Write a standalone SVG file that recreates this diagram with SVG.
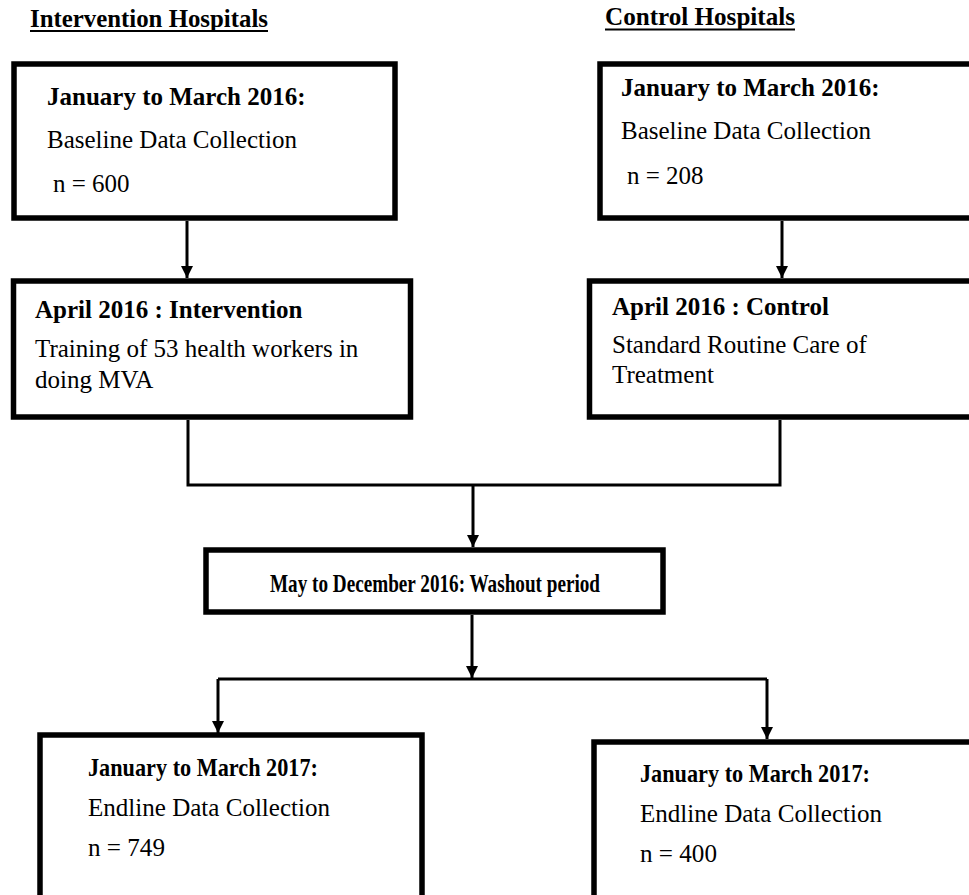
<svg xmlns="http://www.w3.org/2000/svg" width="969" height="895" viewBox="0 0 969 895">
<style>
text{font-family:"Liberation Serif","Times New Roman",serif;fill:#000;font-size:25px}
.b{font-weight:bold}
.box{fill:#fff;stroke:#000;stroke-width:5.5}
.ln{fill:none;stroke:#000;stroke-width:3}
</style>
<defs>
<marker id="ah" markerWidth="12" markerHeight="12" refX="12" refY="6" orient="auto" markerUnits="userSpaceOnUse" viewBox="0 0 12 12">
<path d="M0,0 L12,6 L0,12 Z" fill="#000"/>
</marker>
</defs>
<rect width="969" height="895" fill="#fff"/>
<g id="titles">
<text class="b" x="30" y="27" font-size="24" textLength="238" lengthAdjust="spacingAndGlyphs">Intervention Hospitals</text>
<line x1="30" y1="31" x2="268" y2="31" stroke="#000" stroke-width="2"/>
<text class="b" x="605" y="25" font-size="24" textLength="190" lengthAdjust="spacingAndGlyphs">Control Hospitals</text>
<line x1="605" y1="29.5" x2="795" y2="29.5" stroke="#000" stroke-width="2"/>
</g>
<g id="connectors">
<line class="ln" x1="187" y1="221" x2="187" y2="278" marker-end="url(#ah)"/>
<line class="ln" x1="782" y1="221" x2="782" y2="278" marker-end="url(#ah)"/>
<polyline class="ln" points="188,420 188,485 780,485 780,420"/>
<line class="ln" x1="473" y1="485" x2="473" y2="547" marker-end="url(#ah)"/>
<line class="ln" x1="472" y1="615" x2="472" y2="678" marker-end="url(#ah)"/>
<line class="ln" x1="218" y1="679" x2="767" y2="679"/>
<line class="ln" x1="218" y1="679" x2="218" y2="733" marker-end="url(#ah)"/>
<line class="ln" x1="767" y1="679" x2="767" y2="739" marker-end="url(#ah)"/>
</g>
<g id="n1">
<rect class="box" x="14" y="64" width="381" height="154"/>
<text class="b" x="47" y="105">January to March 2016:</text>
<text x="47" y="148">Baseline Data Collection</text>
<text x="53" y="192">n = 600</text>
</g>
<g id="n2">
<rect class="box" x="600" y="64" width="380" height="154"/>
<text class="b" x="621" y="96">January to March 2016:</text>
<text x="621" y="139">Baseline Data Collection</text>
<text x="627" y="184">n = 208</text>
</g>
<g id="n3">
<rect class="box" x="13.5" y="281" width="397" height="136"/>
<text class="b" x="35" y="318">April 2016 : Intervention</text>
<text x="35" y="357">Training of 53 health workers in</text>
<text x="35" y="388">doing MVA</text>
</g>
<g id="n4">
<rect class="box" x="589.5" y="281" width="400" height="136"/>
<text class="b" x="612" y="315">April 2016 : Control</text>
<text x="612" y="353">Standard Routine Care of</text>
<text x="612" y="383">Treatment</text>
</g>
<g id="n5">
<rect class="box" x="206" y="550" width="457" height="62"/>
<text class="b" x="270" y="592" font-size="22" textLength="330" lengthAdjust="spacingAndGlyphs">May to December 2016: Washout period</text>
</g>
<g id="n6">
<rect class="box" x="40" y="735" width="382" height="200"/>
<text class="b" x="88" y="776" font-size="24" textLength="230" lengthAdjust="spacingAndGlyphs">January to March 2017:</text>
<text x="88" y="816" font-size="24" textLength="242" lengthAdjust="spacingAndGlyphs">Endline Data Collection</text>
<text x="88" y="856" font-size="24" textLength="77" lengthAdjust="spacingAndGlyphs">n = 749</text>
</g>
<g id="n7">
<rect class="box" x="594" y="742" width="400" height="200"/>
<text class="b" x="640" y="782" font-size="24" textLength="230" lengthAdjust="spacingAndGlyphs">January to March 2017:</text>
<text x="640" y="822" font-size="24" textLength="242" lengthAdjust="spacingAndGlyphs">Endline Data Collection</text>
<text x="640" y="862" font-size="24" textLength="77" lengthAdjust="spacingAndGlyphs">n = 400</text>
</g>
</svg>
